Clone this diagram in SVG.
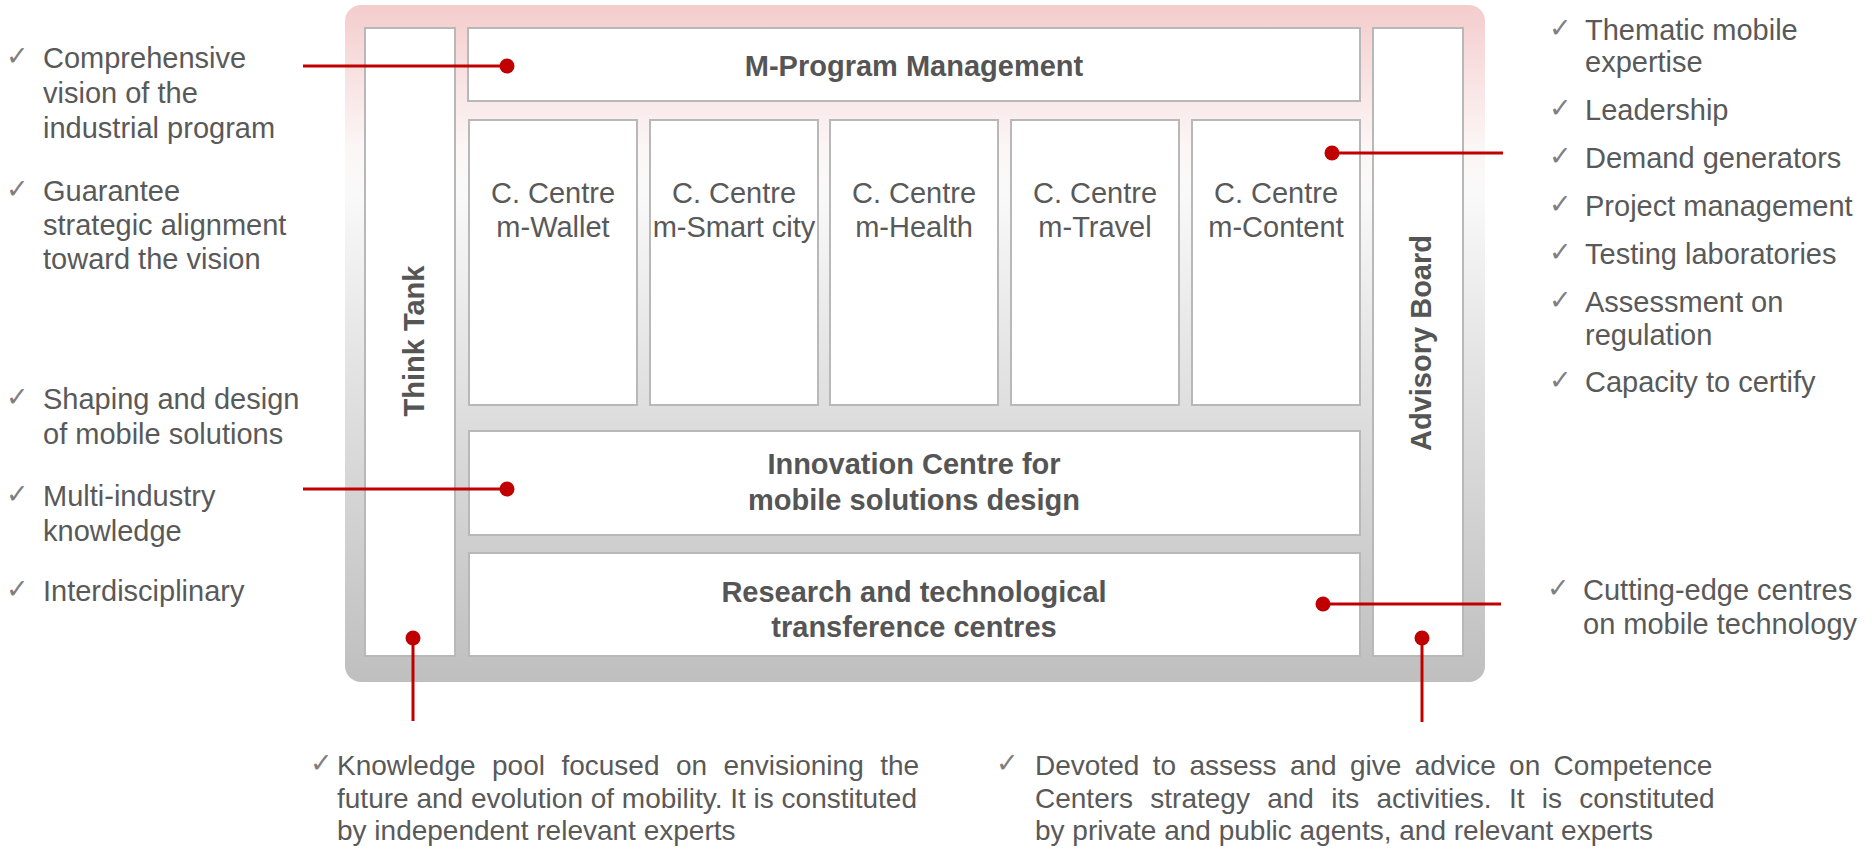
<svg xmlns="http://www.w3.org/2000/svg" width="1872" height="852" viewBox="0 0 1872 852">
<defs>
<linearGradient id="bg" x1="0" y1="0" x2="0" y2="1">
<stop offset="0" stop-color="#f4cccc"/>
<stop offset="0.1" stop-color="#f8e1e1"/>
<stop offset="0.21" stop-color="#fcf6f6"/>
<stop offset="0.28" stop-color="#f9f9f9"/>
<stop offset="0.5" stop-color="#e6e6e6"/>
<stop offset="1" stop-color="#bfbfbf"/>
</linearGradient>
<style>
.box{fill:#ffffff;stroke:#b8b8b8;stroke-width:2}
.t{font-family:"Liberation Sans",Arial,sans-serif;font-size:29px;fill:#595959}
.s{font-family:"Liberation Sans",Arial,sans-serif;font-size:28px;fill:#595959}
.b{font-family:"Liberation Sans",Arial,sans-serif;font-size:29px;font-weight:bold;fill:#555555;text-anchor:middle}
.c{font-family:"Liberation Sans",Arial,sans-serif;font-size:29px;fill:#595959;text-anchor:middle}
.ck{font-family:"DejaVu Sans",sans-serif;font-size:27px;fill:#7f7f7f}
.ln{stroke:#c00000;stroke-width:3;fill:none}
.dot{fill:#c00000}
</style>
</defs>
<rect x="0" y="0" width="1872" height="852" fill="#ffffff"/>

<g id="frame">
<rect x="345" y="5" width="1140" height="677" rx="16" ry="16" fill="url(#bg)"/>
</g>

<g id="think-tank">
<rect class="box" x="365" y="28" width="90" height="628"/>
<text class="b" transform="translate(424,341) rotate(-90)">Think Tank</text>
</g>
<g id="advisory-board">
<rect class="box" x="1373" y="28" width="90" height="628"/>
<text class="b" transform="translate(1431,343) rotate(-90)">Advisory Board</text>
</g>
<g id="m-program">
<rect class="box" x="468" y="28" width="892" height="73"/>
<text class="b" x="914" y="76">M-Program Management</text>
</g>
<g id="cc-wallet">
<rect class="box" x="469" y="120" width="168" height="285"/>
<text class="c" x="553" y="203">C. Centre</text>
<text class="c" x="553" y="237">m-Wallet</text>
</g>
<g id="cc-smartcity">
<rect class="box" x="650" y="120" width="168" height="285"/>
<text class="c" x="734" y="203">C. Centre</text>
<text class="c" x="734" y="237">m-Smart city</text>
</g>
<g id="cc-health">
<rect class="box" x="830" y="120" width="168" height="285"/>
<text class="c" x="914" y="203">C. Centre</text>
<text class="c" x="914" y="237">m-Health</text>
</g>
<g id="cc-travel">
<rect class="box" x="1011" y="120" width="168" height="285"/>
<text class="c" x="1095" y="203">C. Centre</text>
<text class="c" x="1095" y="237">m-Travel</text>
</g>
<g id="cc-content">
<rect class="box" x="1192" y="120" width="168" height="285"/>
<text class="c" x="1276" y="203">C. Centre</text>
<text class="c" x="1276" y="237">m-Content</text>
</g>
<g id="innovation">
<rect class="box" x="469" y="431" width="891" height="104"/>
<text class="b" x="914" y="474">Innovation Centre for</text>
<text class="b" x="914" y="510">mobile solutions design</text>
</g>
<g id="research">
<rect class="box" x="469" y="553" width="891" height="103"/>
<text class="b" x="914" y="602">Research and technological</text>
<text class="b" x="914" y="637">transference centres</text>
</g>

<g id="connectors">
<line class="ln" x1="303" y1="66" x2="507" y2="66"/>
<circle class="dot" cx="507" cy="66" r="7.5"/>
<line class="ln" x1="303" y1="489" x2="507" y2="489"/>
<circle class="dot" cx="507" cy="489" r="7.5"/>
<line class="ln" x1="1332" y1="153" x2="1503" y2="153"/>
<circle class="dot" cx="1332" cy="153" r="7.5"/>
<line class="ln" x1="1323" y1="604" x2="1501" y2="604"/>
<circle class="dot" cx="1323" cy="604" r="7.5"/>
<line class="ln" x1="413" y1="638" x2="413" y2="721"/>
<circle class="dot" cx="413" cy="638" r="7.5"/>
<line class="ln" x1="1422" y1="638" x2="1422" y2="722"/>
<circle class="dot" cx="1422" cy="638" r="7.5"/>
</g>

<g id="left-notes">
<text class="ck" x="6" y="65">✓</text>
<text class="t" x="43" y="68">Comprehensive</text>
<text class="t" x="43" y="103">vision of the</text>
<text class="t" x="43" y="138">industrial program</text>
<text class="ck" x="6" y="198">✓</text>
<text class="t" x="43" y="201">Guarantee</text>
<text class="t" x="43" y="235">strategic alignment</text>
<text class="t" x="43" y="269">toward the vision</text>
<text class="ck" x="6" y="406">✓</text>
<text class="t" x="43" y="409">Shaping and design</text>
<text class="t" x="43" y="444">of mobile solutions</text>
<text class="ck" x="6" y="503">✓</text>
<text class="t" x="43" y="506">Multi-industry</text>
<text class="t" x="43" y="541">knowledge</text>
<text class="ck" x="6" y="598">✓</text>
<text class="t" x="43" y="601">Interdisciplinary</text>
</g>

<g id="right-notes">
<text class="ck" x="1549" y="37">✓</text>
<text class="t" x="1585" y="40">Thematic mobile</text>
<text class="t" x="1585" y="72">expertise</text>
<text class="ck" x="1549" y="117">✓</text>
<text class="t" x="1585" y="120">Leadership</text>
<text class="ck" x="1549" y="165">✓</text>
<text class="t" x="1585" y="168">Demand generators</text>
<text class="ck" x="1549" y="213">✓</text>
<text class="t" x="1585" y="216">Project management</text>
<text class="ck" x="1549" y="261">✓</text>
<text class="t" x="1585" y="264">Testing laboratories</text>
<text class="ck" x="1549" y="309">✓</text>
<text class="t" x="1585" y="312">Assessment on</text>
<text class="t" x="1585" y="345">regulation</text>
<text class="ck" x="1549" y="389">✓</text>
<text class="t" x="1585" y="392">Capacity to certify</text>
<text class="ck" x="1547" y="597">✓</text>
<text class="t" x="1583" y="600">Cutting-edge centres</text>
<text class="t" x="1583" y="634">on mobile technology</text>
</g>

<g id="bottom-notes">
<text class="ck" x="310" y="772">✓</text>
<text class="s" x="337" y="775" word-spacing="8.7">Knowledge pool focused on envisioning the</text>
<text class="s" x="337" y="808">future and evolution of mobility. It is constituted</text>
<text class="s" x="337" y="840">by independent relevant experts</text>
<text class="ck" x="996" y="772">✓</text>
<text class="s" x="1035" y="775" word-spacing="5.6">Devoted to assess and give advice on Competence</text>
<text class="s" x="1035" y="808" word-spacing="9.5">Centers strategy and its activities. It is constituted</text>
<text class="s" x="1035" y="840">by private and public agents, and relevant experts</text>
</g>
</svg>
